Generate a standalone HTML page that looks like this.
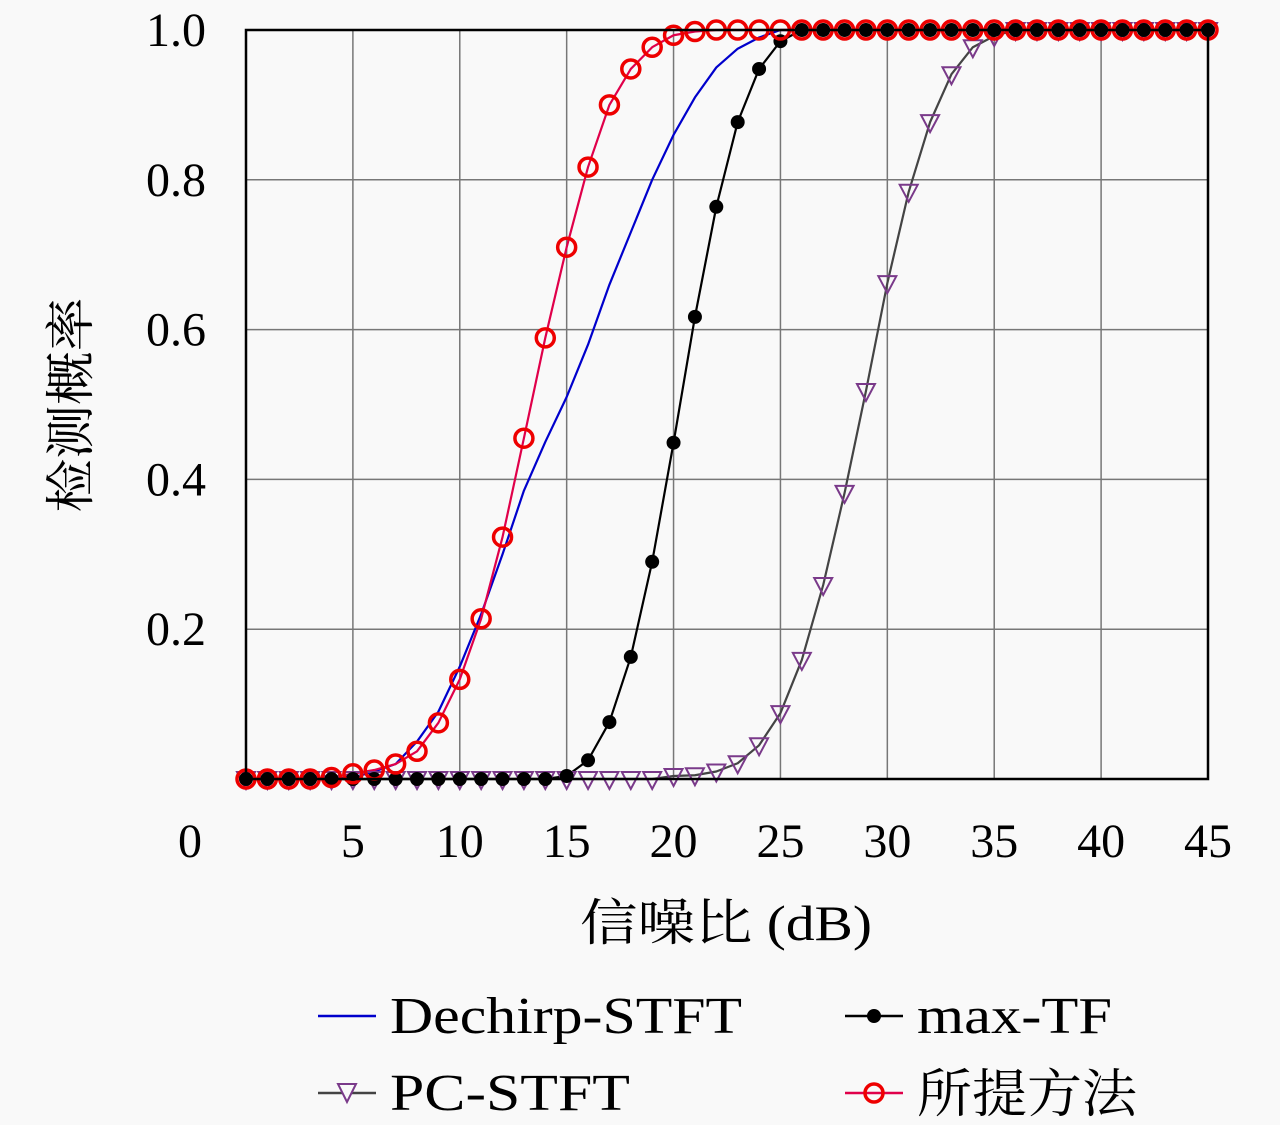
<!DOCTYPE html>
<html><head><meta charset="utf-8"><style>
html,body{margin:0;padding:0;background:#f9f9f9;}
svg{display:block;font-family:"Liberation Serif","Noto Serif CJK SC","Noto Sans CJK SC",serif;}
</style></head><body>
<svg id="chart" width="1280" height="1125" viewBox="0 0 1280 1125">
<rect width="1280" height="1125" fill="#f9f9f9"/>
<g id="grid"></g>
<g id="series"></g>
<rect x="246" y="30" width="962" height="749" fill="none" stroke="#000" stroke-width="2.5"/>
<g id="ticks" font-size="48"></g>
<text x="580" y="940" font-size="50" textLength="292" lengthAdjust="spacingAndGlyphs">信噪比 (dB)</text>
<text transform="translate(88,405) rotate(-90)" font-size="50" text-anchor="middle" textLength="215" lengthAdjust="spacingAndGlyphs">检测概率</text>
<g font-size="52">
 <g>
  <line x1="318" y1="1016" x2="376" y2="1016" stroke="#0000cc" stroke-width="2.5"/>
  <text x="390" y="1033" textLength="352" lengthAdjust="spacingAndGlyphs">Dechirp-STFT</text></g>
 <g>
  <line x1="845" y1="1016" x2="903" y2="1016" stroke="#000" stroke-width="2.5"/>
  <circle cx="874" cy="1016" r="7" fill="#000"/>
  <text x="917" y="1033" textLength="195" lengthAdjust="spacingAndGlyphs">max-TF</text></g>
 <g>
  <line x1="318" y1="1093" x2="376" y2="1093" stroke="#444" stroke-width="2.5"/>
  <path d="M338,1084 L356,1084 L347,1102 Z" fill="#f9f9f9" stroke="#7a3a8a" stroke-width="2"/>
  <text x="390" y="1110" textLength="240" lengthAdjust="spacingAndGlyphs">PC-STFT</text></g>
 <g>
  <line x1="845" y1="1093" x2="903" y2="1093" stroke="#e0004a" stroke-width="2.5"/>
  <circle cx="874" cy="1093" r="9" fill="none" stroke="#ee0000" stroke-width="3.5"/>
  <text x="917" y="1112" textLength="220" lengthAdjust="spacingAndGlyphs">所提方法</text></g>
</g>
</svg>
<script>
const snr = [];
for (let i = 0; i <= 45; i++) snr.push(i);
const dechirp = [0,0,0,0,0,0.002,0.01,0.02,0.05,0.09,0.15,0.22,0.3,0.385,0.45,0.51,0.58,0.66,0.73,0.8,0.86,0.91,0.95,0.975,0.99,1,1,1,1,1,1,1,1,1,1,1,1,1,1,1,1,1,1,1,1,1];
const maxTF = [0,0,0,0,0,0,0,0,0,0,0,0,0,0,0,0.004,0.025,0.076,0.163,0.29,0.449,0.617,0.764,0.877,0.948,0.985,1,1,1,1,1,1,1,1,1,1,1,1,1,1,1,1,1,1,1,1];
const pcSTFT = [0,0,0,0,0,0,0,0,0,0,0,0,0,0,0,0,0,0,0,0,0.004,0.005,0.01,0.021,0.045,0.088,0.159,0.259,0.382,0.518,0.662,0.784,0.877,0.941,0.977,0.992,1,1,1,1,1,1,1,1,1,1];
const proposed = [0,0,0,0,0.002,0.007,0.012,0.02,0.037,0.075,0.133,0.214,0.323,0.455,0.589,0.71,0.817,0.9,0.948,0.977,0.993,0.998,1,1,1,1,1,1,1,1,1,1,1,1,1,1,1,1,1,1,1,1,1,1,1,1];
const xTicks = [5,10,15,20,25,30,35,40,45];
const yTicks = [0.2,0.4,0.6,0.8,1.0];

const NS = "http://www.w3.org/2000/svg";
const X = v => 246 + (1208 - 246) * v / 45;
const Y = v => 779 - 749 * v;
function mk(tag, attrs, parent) {
  const e = document.createElementNS(NS, tag);
  for (const k in attrs) e.setAttribute(k, attrs[k]);
  parent.appendChild(e);
  return e;
}
const grid = document.getElementById('grid');
const ticks = document.getElementById('ticks');
const series = document.getElementById('series');
xTicks.forEach(t => {
  const l = mk('line', {x1: X(t), x2: X(t), y1: 30, y2: 779, stroke: '#777', 'stroke-width': 1.5}, grid);
  
  
  const tx = mk('text', {x: X(t), y: 857, 'text-anchor': 'middle'}, ticks);
  tx.textContent = String(t);
  
  
});
yTicks.forEach(t => {
  const l = mk('line', {x1: 246, x2: 1208, y1: Y(t), y2: Y(t), stroke: '#777', 'stroke-width': 1.5}, grid);
  
  
  const tx = mk('text', {x: 206, y: Y(t) + 16, 'text-anchor': 'end'}, ticks);
  tx.textContent = t.toFixed(1);
  
  
});
const z = mk('text', {x: 190, y: 857, 'text-anchor': 'middle'}, ticks);
z.textContent = '0';



function line(vals, color, name) {
  const pts = vals.map((v, i) => X(snr[i]) + ',' + Y(v)).join(' ');
  const p = mk('polyline', {points: pts, fill: 'none', stroke: color, 'stroke-width': 2.2, 'stroke-linejoin': 'round'}, series);
  
  
}
line(dechirp, '#0000cc', 'dechirp-stft-line');
line(maxTF, '#000', 'max-tf-line');
line(pcSTFT, '#444', 'pc-stft-line');
line(proposed, '#e0004a', 'proposed-line');

pcSTFT.forEach((v, i) => {
  const x = X(snr[i]), y = Y(v);
  const p = mk('path', {d: `M${x-9},${y-7} L${x+9},${y-7} L${x},${y+10} Z`, fill: 'none', stroke: '#7a3a8a', 'stroke-width': 2}, series);
  
  
});
maxTF.forEach((v, i) => {
  const c = mk('circle', {cx: X(snr[i]), cy: Y(v), r: 7, fill: '#000'}, series);
  
  
});
proposed.forEach((v, i) => {
  const c = mk('circle', {cx: X(snr[i]), cy: Y(v), r: 9, fill: 'none', stroke: '#ee0000', 'stroke-width': 3.5}, series);
  
  
});
</script>
</body></html>
